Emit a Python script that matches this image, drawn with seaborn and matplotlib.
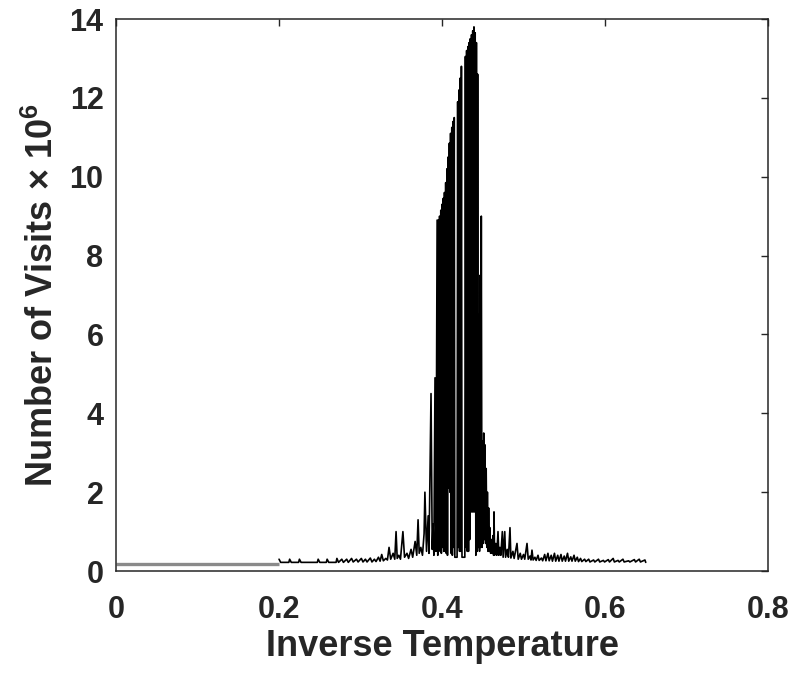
import numpy as np
import matplotlib
matplotlib.use('Agg')
import matplotlib.pyplot as plt
import seaborn as sns

# (inverse temperature, visits x 1e6)
left_tail = [
    (0.200, 0.30), (0.202, 0.22), (0.212, 0.22), (0.213, 0.30), (0.215, 0.22),
    (0.224, 0.22), (0.225, 0.30), (0.227, 0.22), (0.247, 0.22), (0.248, 0.30),
    (0.250, 0.22), (0.258, 0.22), (0.259, 0.30), (0.261, 0.22), (0.270, 0.22),
    (0.271, 0.32), (0.273, 0.22), (0.277, 0.30), (0.279, 0.22), (0.283, 0.30),
    (0.285, 0.22), (0.289, 0.32), (0.291, 0.23), (0.295, 0.30), (0.297, 0.23),
    (0.301, 0.32), (0.303, 0.23), (0.306, 0.30), (0.308, 0.23), (0.312, 0.33),
    (0.314, 0.23), (0.317, 0.30), (0.319, 0.24), (0.322, 0.35), (0.324, 0.25),
    (0.326, 0.42), (0.328, 0.26), (0.331, 0.32), (0.333, 0.28), (0.335, 0.60),
    (0.337, 0.30), (0.340, 0.45), (0.342, 0.30), (0.3436, 1.00), (0.345, 0.32),
    (0.347, 0.40), (0.349, 0.30), (0.352, 1.00), (0.354, 0.35), (0.357, 0.45),
    (0.359, 0.32), (0.362, 0.55), (0.364, 0.35), (0.367, 0.75), (0.369, 0.40),
    (0.3706, 1.30), (0.372, 0.45), (0.374, 0.60), (0.376, 0.40), (0.378, 0.95),
    (0.379, 2.00), (0.381, 0.50), (0.383, 1.40), (0.384, 0.45), (0.3865, 4.50),
    (0.388, 0.55), (0.389, 1.20), (0.390, 0.40), (0.3914, 4.90), (0.3925, 0.50),
]

peak = [
    (0.3940, 8.90), (0.3948, 0.40), (0.3955, 8.90), (0.3962, 0.60), (0.3970, 9.00),
    (0.3977, 0.50), (0.3985, 9.15), (0.3992, 0.45), (0.4000, 9.30), (0.4007, 0.60),
    (0.4015, 9.45), (0.4022, 0.50), (0.4030, 9.60), (0.4037, 0.50), (0.4045, 9.85),
    (0.4052, 0.45), (0.4060, 10.20), (0.4067, 0.40), (0.4075, 10.50), (0.4082, 2.10),
    (0.4090, 10.85), (0.4097, 2.00), (0.4105, 11.10), (0.4112, 0.45), (0.4120, 11.25),
    (0.4127, 0.40), (0.4135, 11.40), (0.4142, 0.60), (0.4150, 11.50), (0.4157, 0.35),
    (0.4185, 0.35), (0.4192, 11.90), (0.4200, 0.60), (0.4208, 12.20), (0.4215, 0.50),
    (0.4223, 12.50), (0.4230, 0.50), (0.4238, 12.80), (0.4245, 0.35), (0.4280, 0.35),
    (0.4287, 13.05), (0.4295, 0.60), (0.4302, 13.20), (0.4310, 0.50), (0.4317, 13.30),
    (0.4325, 0.50), (0.4332, 13.40), (0.4340, 0.80), (0.4347, 13.50), (0.4355, 1.50),
    (0.4362, 13.60), (0.4370, 1.50), (0.4377, 13.70), (0.4385, 1.50), (0.4392, 13.80),
    (0.4400, 1.50), (0.4407, 13.65), (0.4415, 0.40), (0.4422, 13.40), (0.4430, 0.50),
    (0.4437, 12.60), (0.4445, 0.60), (0.4452, 6.50), (0.4460, 0.50), (0.4467, 7.50),
    (0.4475, 0.60), (0.4482, 9.00), (0.4490, 0.60),
]

right_tail = [
    (0.4497, 3.30), (0.4505, 0.70), (0.4512, 3.50), (0.4520, 0.80), (0.4527, 3.20),
    (0.4535, 0.70), (0.4542, 2.60), (0.4550, 0.60), (0.4557, 2.00), (0.4565, 0.50),
    (0.4572, 1.60), (0.4580, 0.50), (0.4587, 1.10), (0.4597, 0.45), (0.4607, 0.80),
    (0.4617, 0.45), (0.4627, 0.90), (0.4633, 0.40), (0.4638, 1.50), (0.4645, 0.40),
    (0.4660, 0.70), (0.4672, 0.40), (0.4687, 1.00), (0.4697, 0.40), (0.4710, 0.60),
    (0.4722, 0.40), (0.4740, 1.00), (0.4750, 0.35), (0.4770, 1.00), (0.4780, 0.35),
    (0.4800, 0.55), (0.4815, 0.35), (0.4834, 1.10), (0.4845, 0.33), (0.4870, 0.50),
    (0.4885, 0.32), (0.4920, 0.70), (0.4935, 0.30), (0.4960, 0.45), (0.4975, 0.30),
    (0.5000, 0.42), (0.5015, 0.30), (0.5043, 0.70), (0.5058, 0.30), (0.5080, 0.38),
    (0.5092, 0.28), (0.5104, 0.53), (0.5118, 0.28), (0.5140, 0.35), (0.5155, 0.27),
    (0.5178, 0.40), (0.5192, 0.27), (0.5220, 0.33), (0.5235, 0.26), (0.5260, 0.42),
    (0.5275, 0.26), (0.5300, 0.45), (0.5315, 0.26), (0.5340, 0.40), (0.5355, 0.25),
    (0.5380, 0.45), (0.5395, 0.25), (0.5420, 0.40), (0.5435, 0.25), (0.5460, 0.42),
    (0.5475, 0.25), (0.5500, 0.38), (0.5515, 0.25), (0.5540, 0.45), (0.5555, 0.25),
    (0.5580, 0.36), (0.5595, 0.25), (0.5620, 0.40), (0.5635, 0.25), (0.5660, 0.35),
    (0.5675, 0.24), (0.5700, 0.32), (0.5715, 0.24), (0.5750, 0.30), (0.5765, 0.24),
    (0.5800, 0.30), (0.5815, 0.23), (0.5860, 0.28), (0.5875, 0.23), (0.5920, 0.30),
    (0.5935, 0.23), (0.5980, 0.27), (0.5995, 0.23), (0.6040, 0.29), (0.6055, 0.23),
    (0.6100, 0.32), (0.6115, 0.23), (0.6160, 0.27), (0.6175, 0.23), (0.6220, 0.30),
    (0.6235, 0.23), (0.6290, 0.26), (0.6305, 0.23), (0.6360, 0.29), (0.6375, 0.23),
    (0.6420, 0.30), (0.6435, 0.23), (0.6490, 0.28), (0.6500, 0.22),
]

# flat grey reference line on the left
ref_beta = [0.0, 0.2]
ref_visits = [0.18, 0.18]

xticks = [0, 0.2, 0.4, 0.6, 0.8]
yticks = [0, 2, 4, 6, 8, 10, 12, 14]

beta, visits = np.array(left_tail + peak + right_tail).T

sns.set_style('white')
plt.rcParams['font.family'] = ['Liberation Sans', 'DejaVu Sans']
plt.rcParams['mathtext.fontset'] = 'custom'
plt.rcParams['mathtext.rm'] = 'Liberation Sans:bold'
plt.rcParams['mathtext.bf'] = 'Liberation Sans:bold'

fig = plt.figure(figsize=(7.95, 6.79), dpi=100)
ax = fig.add_axes([0.146, 0.159, 0.820, 0.813])

ax.plot(ref_beta, ref_visits, color='#8a8a8a', lw=2.4, solid_capstyle='butt')
sns.lineplot(x=beta, y=visits, color='black', lw=1.2, estimator=None, sort=False, ax=ax)

ax.set_xlim(0, 0.8)
ax.set_ylim(0, 14)
ax.set_xticks(xticks)
ax.set_xticklabels(['0', '0.2', '0.4', '0.6', '0.8'])
ax.set_yticks(yticks)

dark = '#262626'
for s in ax.spines.values():
    s.set_visible(True)
    s.set_color(dark)
    s.set_linewidth(1.1)
ax.tick_params(direction='in', length=5, width=1.0, color=dark, top=True, right=True,
               labelsize=22, labelcolor=dark)
ax.tick_params(axis='x', pad=17)
ax.tick_params(axis='y', pad=9)
for lab in ax.get_xticklabels() + ax.get_yticklabels():
    lab.set_fontweight('bold')

ax.set_xlabel('Inverse Temperature', fontsize=26, fontweight='bold', color=dark, labelpad=3)
ax.set_ylabel(r'Number of Visits $\times$ 10$^{6}$', fontsize=26, fontweight='bold',
              color=dark, labelpad=6)

fig.savefig('out.png', dpi=100)
